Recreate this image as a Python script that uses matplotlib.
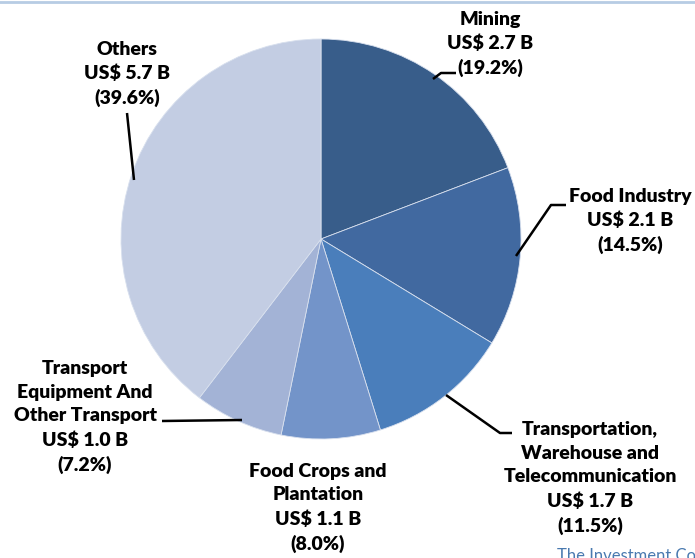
import numpy as np
import matplotlib.pyplot as plt

plt.rcParams['font.family'] = ['Lato', 'DejaVu Sans']

sectors = ['Mining', 'Food Industry', 'Transportation,\nWarehouse and\nTelecommunication',
           'Food Crops and\nPlantation', 'Transport\nEquipment And\nOther Transport', 'Others']
values_b = [2.7, 2.1, 1.7, 1.1, 1.0, 5.7]
shares = [19.2, 14.5, 11.5, 8.0, 7.2, 39.6]
colors = ['#385D8A', '#4169A0', '#4A7EBB', '#7394C9', '#A3B3D6', '#C3CDE3']

W, H = 695, 558
fig = plt.figure(figsize=(W / 100, H / 100), dpi=100)
ax = fig.add_axes([0, 0, 1, 1])

cx, cy, r = 321, H - 239, 200
wedges, _ = ax.pie(shares, colors=colors, startangle=90, counterclock=False,
                   center=(cx, cy), radius=r, frame=True,
                   wedgeprops=dict(edgecolor='#d8e0ee', linewidth=0.6))
ax.set_xlim(0, W)
ax.set_ylim(0, H)
ax.axis('off')

# label anchor (image px), leader line points (image px)
label_pos = [(490, 44), (630, 221), (590, 478), (318, 508), (85, 417), (127, 74)]
leaders = [
    [(433, 79), (441, 73), (456, 73)],
    [(516, 256), (551, 205), (566, 205)],
    [(446, 395), (500, 433), (512, 433)],
    None,
    [(162, 421), (242, 420)],
    [(134, 180), (127, 113)],
]

for name, v, s, (lx, ly), ld in zip(sectors, values_b, shares, label_pos, leaders):
    txt = f'{name}\nUS$ {v:.1f} B\n({s:.1f}%)'
    ax.text(lx, H - ly, txt, ha='center', va='center', fontsize=14,
            fontweight='heavy', linespacing=1.48, color='black')
    if ld:
        xs = [p[0] for p in ld]
        ys = [H - p[1] for p in ld]
        ax.plot(xs, ys, color='black', lw=1.8, solid_capstyle='butt')

# top border strip
ax.plot([0, W], [H - 1.5, H - 1.5], color='#b7cce4', lw=2)
ax.text(557, -6, 'The Investment Coordinating Board', fontsize=12,
        color='#4a7ab0', ha='left', va='bottom', clip_on=True)

fig.savefig('out.png', dpi=100)
